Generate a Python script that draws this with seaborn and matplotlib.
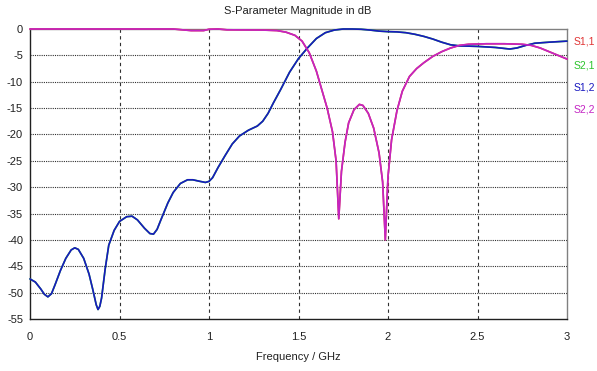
import matplotlib
matplotlib.use("Agg")
import matplotlib.pyplot as plt
import seaborn as sns
import numpy as np

# S1,2 / S2,1 (transmission)
freq_t = [0.0, 0.03, 0.06, 0.08, 0.10, 0.12, 0.14, 0.17, 0.20, 0.23, 0.25, 0.27, 0.30, 0.33, 0.35,
          0.37, 0.38, 0.39, 0.40, 0.42, 0.44, 0.47, 0.50, 0.54, 0.57, 0.60, 0.64, 0.67, 0.69, 0.71,
          0.73, 0.77, 0.80, 0.84, 0.88, 0.91, 0.95, 0.98, 1.00, 1.02, 1.05, 1.09, 1.13, 1.17, 1.22,
          1.27, 1.30, 1.33, 1.36, 1.40, 1.45, 1.50, 1.55, 1.60, 1.65, 1.70, 1.75, 1.80, 1.85, 1.90,
          1.95, 2.00, 2.05, 2.10, 2.15, 2.20, 2.25, 2.30, 2.35, 2.40, 2.50, 2.60, 2.68, 2.72,
          2.77, 2.82, 2.90, 3.00]
s12 = [-47.4, -48.0, -49.3, -50.3, -50.8, -50.2, -48.5, -45.8, -43.5, -41.9, -41.5, -41.8, -43.5, -46.5, -49.3,
       -52.3, -53.2, -52.6, -51.0, -45.5, -41.0, -38.2, -36.5, -35.6, -35.5, -36.2, -37.8, -38.8, -38.9, -38.0,
       -36.3, -33.0, -31.0, -29.3, -28.6, -28.6, -28.9, -29.1, -28.9, -28.2, -26.3, -24.0, -21.8, -20.3, -19.2,
       -18.4, -17.5, -16.0, -14.0, -11.5, -8.2, -5.6, -3.6, -1.8, -0.7, -0.2, 0.0, 0.0, -0.05, -0.2,
       -0.4, -0.5, -0.55, -0.7, -1.0, -1.4, -1.9, -2.5, -3.0, -3.2, -3.3, -3.5, -3.8, -3.6,
       -3.1, -2.7, -2.5, -2.3]
s21 = list(s12)

# S1,1 / S2,2 (reflection)
freq_r = [0.0, 0.3, 0.6, 0.8, 0.9, 0.97, 1.0, 1.05, 1.1, 1.3, 1.38, 1.43, 1.48, 1.52, 1.56, 1.60,
          1.63, 1.66, 1.69, 1.71, 1.725, 1.74, 1.76, 1.78, 1.81, 1.84, 1.86, 1.89, 1.92, 1.95,
          1.97, 1.985, 2.00, 2.02, 2.05, 2.08, 2.12, 2.16, 2.20, 2.25, 2.30, 2.35, 2.40, 2.45,
          2.55, 2.65, 2.75, 2.80, 2.85, 2.90, 2.95, 3.00]
s22 = [0.0, 0.0, 0.0, 0.0, -0.3, -0.3, -0.05, 0.0, -0.15, -0.2, -0.3, -0.6, -1.2, -2.3, -4.5, -8.0,
       -11.5, -15.0, -19.5, -25.0, -36.0, -27.0, -21.5, -17.8, -15.3, -14.3, -14.5, -16.0, -18.8, -23.5,
       -29.0, -40.0, -28.0, -21.0, -15.5, -11.8, -9.0, -7.5, -6.4, -5.2, -4.3, -3.6, -3.1, -2.9,
       -2.8, -2.8, -2.9, -3.1, -3.6, -4.3, -5.0, -5.7]
s11 = list(s22)

x_ticks = [0, 0.5, 1, 1.5, 2, 2.5, 3]
x_tick_labels = ["0", "0.5", "1", "1.5", "2", "2.5", "3"]
y_ticks = [0, -5, -10, -15, -20, -25, -30, -35, -40, -45, -50, -55]

series_names = ["S1,1", "S2,1", "S1,2", "S2,2"]
series_colors = ["#e03434", "#2cc42c", "#1818c0", "#c424c4"]

sns.set_style("white")
plt.rcParams["font.family"] = ["Liberation Sans", "DejaVu Sans"]

fig = plt.figure(figsize=(5.97, 3.71), dpi=100)
ax = fig.add_axes([30/597, 1 - 319/371, (567 - 30)/597, (319 - 29)/371])

sns.lineplot(x=freq_r, y=s11, ax=ax, color=series_colors[0], linewidth=1.2, sort=False)
sns.lineplot(x=freq_t, y=s21, ax=ax, color=series_colors[1], linewidth=1.2, sort=False)
sns.lineplot(x=freq_t, y=s12, ax=ax, color=series_colors[2], linewidth=1.2, sort=False)
sns.lineplot(x=freq_r, y=s22, ax=ax, color=series_colors[3], linewidth=1.2, sort=False)
for ln in ax.lines:
    ln.set_clip_on(False)
    ln.set_zorder(5)

ax.set_xlim(0, 3)
ax.set_ylim(-55, 0)
ax.set_xticks(x_ticks)
ax.set_xticklabels(x_tick_labels)
ax.set_yticks(y_ticks)
ax.set_yticklabels([str(v) for v in y_ticks])
ax.tick_params(axis="both", labelsize=8, length=3, width=0.8, direction="out", colors="#202020",
               pad=2)
ax.tick_params(axis="x", pad=6)

for v in x_ticks[1:-1]:
    ax.axvline(v, color="#303030", linewidth=0.8, linestyle=(0, (3, 3)), zorder=0)
for v in y_ticks[1:-1]:
    ax.axhline(v, color="#303030", linewidth=0.8, linestyle=(0, (1, 1)), zorder=0)

for side in ["left", "bottom"]:
    ax.spines[side].set_color("#202020")
    ax.spines[side].set_linewidth(1.0)
for side in ["top", "right"]:
    ax.spines[side].set_color("#808080")
    ax.spines[side].set_linewidth(1.0)

ax.set_xlabel("")
ax.set_ylabel("")
fig.text(298/597, 1 - 11/371, "S-Parameter Magnitude in dB", ha="center", va="center",
         fontsize=8, color="#202020")
fig.text(298/597, 1 - 357/371, "Frequency / GHz", ha="center", va="center",
         fontsize=8, color="#202020")

legend_y = [42, 65, 88, 110]
for name, col, yy in zip(series_names, series_colors, legend_y):
    fig.text(574/597, 1 - yy/371, name, ha="left", va="center", fontsize=7.5, color=col)

fig.savefig("out.png", dpi=100)
